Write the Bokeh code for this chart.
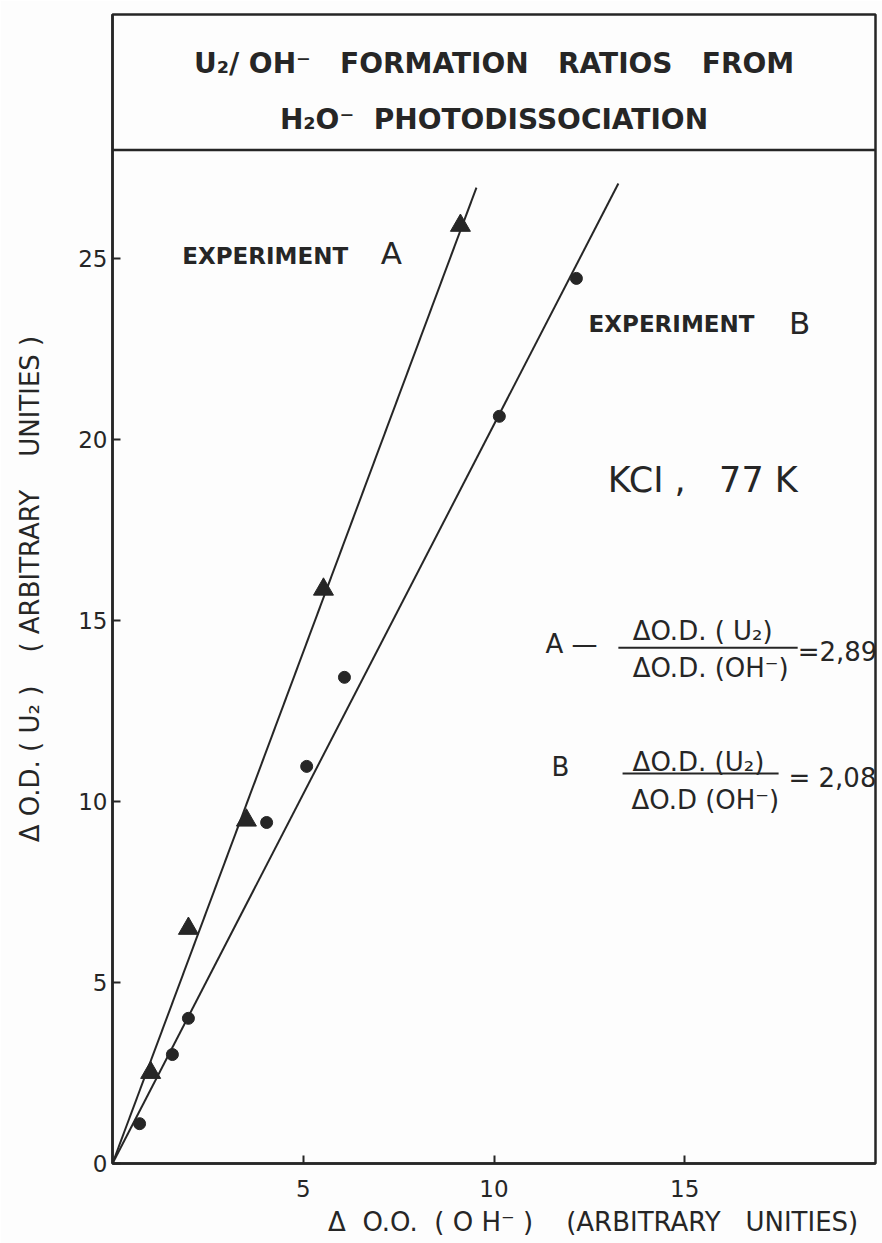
from bokeh.plotting import figure
from bokeh.models import Range1d, FixedTicker, Label, Span
from bokeh.embed import file_html
from bokeh.resources import INLINE

# ---- data ----
exp_a_x = [1.00, 1.99, 3.51, 5.53, 9.12]
exp_a_y = [2.51, 6.49, 9.48, 15.86, 25.91]
exp_b_x = [0.71, 1.57, 1.99, 4.04, 5.09, 6.08, 10.14, 12.16]
exp_b_y = [1.10, 3.01, 4.01, 9.42, 10.97, 13.43, 20.64, 24.45]
fit_a_x = [0.0, 9.54]
fit_a_y = [0.0, 26.96]
fit_b_x = [0.0, 13.26]
fit_b_y = [0.0, 27.07]
x_ticks = [5, 10, 15]
y_ticks = [0, 5, 10, 15, 20, 25]
ratio_a = "2,89"
ratio_b = "2,08"

INK = "#262626"
BG = "#fdfdfd"
FONT = "DejaVu Sans"
S = "\u00a0"

p = figure(width=882, height=1243, x_range=Range1d(0, 20), y_range=Range1d(0, 31.74),
           output_backend="svg", toolbar_location=None,
           min_border_left=112, min_border_right=7, min_border_top=14, min_border_bottom=80,
           background_fill_color=BG, border_fill_color=BG)
p.grid.visible = False
p.outline_line_color = INK
p.outline_line_width = 2.5

for ax in (p.xaxis[0], p.yaxis[0]):
    ax.axis_line_color = INK
    ax.axis_line_width = 2.5
    ax.major_tick_in = 8
    ax.major_tick_out = 0
    ax.major_tick_line_color = INK
    ax.major_tick_line_width = 2
    ax.minor_tick_line_color = None
    ax.major_label_text_font = FONT
    ax.major_label_text_font_size = "23px"
    ax.major_label_text_color = INK
    ax.axis_label_text_font = FONT
    ax.axis_label_text_font_size = "26px"
    ax.axis_label_text_font_style = "normal"
    ax.axis_label_text_color = INK

p.xaxis.ticker = FixedTicker(ticks=x_ticks)
p.yaxis.ticker = FixedTicker(ticks=y_ticks)
p.xaxis.major_label_standoff = 16
p.yaxis.major_label_standoff = 5
p.xaxis.axis_label = (S * 24 + "\u0394" + S * 2 + "O.O." + S * 2 + "(" + S + "O" + S + "H\u207b" + S + ")"
                      + S * 4 + "(ARBITRARY" + S * 3 + "UNITIES)")
p.yaxis.axis_label = ("\u0394" + S + "O.D." + S + "(" + S + "U\u2082" + S + ")" + S * 4
                      + "(" + S + "ARBITRARY" + S * 4 + "UNITIES" + S + ")")
p.xaxis.axis_label_standoff = 7
p.yaxis.axis_label_standoff = 30

# title box divider
p.add_layout(Span(location=28.0, dimension="width", line_color=INK, line_width=2.5))

# fitted lines
p.line(fit_a_x, fit_a_y, line_color=INK, line_width=2)
p.line(fit_b_x, fit_b_y, line_color=INK, line_width=2)

# points
p.scatter(exp_a_x, exp_a_y, marker="triangle", size=20, fill_color=INK, line_color=INK)
p.scatter(exp_b_x, exp_b_y, marker="circle", size=12, fill_color=INK, line_color=INK)


def lab(x, y, text, size, style="normal", align="left", baseline="middle"):
    p.add_layout(Label(x=x, y=y, text=text, text_font=FONT, text_font_size=size,
                       text_font_style=style, text_color=INK, text_align=align,
                       text_baseline=baseline))


# title
lab(10.0, 30.39, "U\u2082/" + S + "OH\u207b" + S * 3 + "FORMATION" + S * 3 + "RATIOS" + S * 3 + "FROM",
    "28px", "bold", "center")
lab(10.0, 28.84, "H\u2082O\u207b" + S * 2 + "PHOTODISSOCIATION", "28px", "bold", "center")

# experiment labels
lab(1.83, 25.06, "EXPERIMENT", "23px", "bold")
lab(7.31, 25.14, "A", "31px", align="center")
lab(12.48, 23.19, "EXPERIMENT", "23px", "bold")
lab(18.01, 23.23, "B", "31px", align="center")
lab(12.98, 18.87, "KCI" + S + "," + S * 3 + "77" + S + "K", "35px")

# ratio A
lab(11.35, 14.36, "A" + S + "\u2014", "26px")
lab(15.47, 14.70, "\u0394O.D." + S + "(" + S + "U\u2082)", "26px", align="center")
lab(15.68, 13.70, "\u0394O.D." + S + "(OH\u207b)", "26px", align="center")
lab(17.96, 14.12, "=" + ratio_a, "26px")
# ratio B
lab(11.74, 10.94, "B", "26px", align="center")
lab(15.36, 11.08, "\u0394O.D." + S + "(U\u2082)", "26px", align="center")
lab(15.54, 10.03, "\u0394O.D" + S + "(OH\u207b)", "26px", align="center")
lab(17.72, 10.66, "=" + S + ratio_b, "26px")

p.segment(x0=[13.26, 13.37], y0=[14.25, 10.77], x1=[17.96, 17.46], y1=[14.25, 10.77],
          line_color=INK, line_width=2)

open("out.html", "w").write(file_html(p, INLINE))
